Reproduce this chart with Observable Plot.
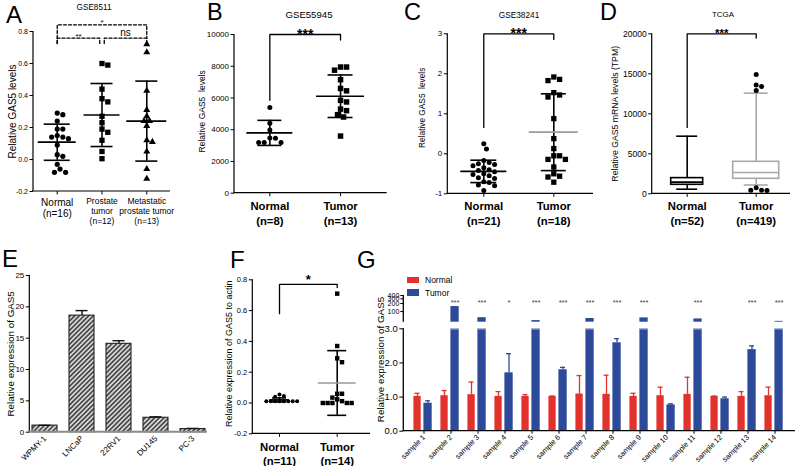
<!DOCTYPE html>
<html><head><meta charset="utf-8">
<script src="https://cdn.jsdelivr.net/npm/d3@7"></script>
<script src="https://cdn.jsdelivr.net/npm/@observablehq/plot@0.6"></script>
<style>
body{margin:0;background:#fff;}
#fig{position:relative;width:796px;height:466px;overflow:hidden;background:#fff;font-family:"Liberation Sans",Arial,Helvetica,sans-serif;}
#fig svg{position:absolute;overflow:visible;}
.lbl{position:absolute;white-space:nowrap;color:#000;}
</style></head><body><div id="fig"></div>
<script>
// ---------------- DATA ----------------
// Panel A (GSE8511)
const aCats = ["Normal\n(n=16)", "Prostate\ntumor\n(n=12)", "Metastatic\nprostate tumor\n(n=13)"];
const aNormal = [0.29, 0.28, 0.24, 0.19, 0.19, 0.15, 0.14, 0.14, 0.13, 0.09, 0.03, 0.02, -0.03, -0.06, -0.08, -0.08];
const aProstate = [0.60, 0.59, 0.44, 0.38, 0.36, 0.27, 0.23, 0.19, 0.17, 0.12, 0.05, 0.005];
const aMetastatic = [0.72, 0.67, 0.43, 0.31, 0.27, 0.24, 0.24, 0.21, 0.12, 0.11, 0.05, -0.06, -0.12];
const aMean = [0.108, 0.278, 0.24];
const aSD = [0.113, 0.197, 0.25];
const aTicks = [-0.2, 0, 0.2, 0.4, 0.6, 0.8];
// Panel B (GSE55945)
const bCats = ["Normal\n(n=8)", "Tumor\n(n=13)"];
const bNormal = [5400, 4400, 3980, 3480, 3460, 3200, 3200, 3200];
const bTumor = [7950, 7950, 7750, 7150, 6600, 6450, 5850, 5750, 5300, 5200, 4950, 4800, 3600];
const bMean = [3800, 6110];
const bSD = [790, 1340];
const bTicks = [0, 2000, 4000, 6000, 8000, 10000];
// Panel C (GSE38241)
const cCats = ["Normal\n(n=21)", "Tumor\n(n=18)"];
const cNormal = [0.25, 0.12, -0.17, -0.22, -0.25, -0.27, -0.3, -0.35, -0.4, -0.42, -0.45, -0.5, -0.52, -0.55, -0.6, -0.62, -0.7, -0.72, -0.78, -0.8, -0.92];
const cTumor = [1.92, 1.86, 1.83, 1.53, 1.47, 1.42, 0.88, 0.38, 0.13, -0.05, -0.05, -0.14, -0.14, -0.33, -0.5, -0.56, -0.58, -0.71];
const cMean = [-0.44, 0.54];
const cSD = [0.28, 0.96];
const cTicks = [-1, 0, 1, 2, 3];
// Panel D (TCGA)
const dCats = ["Normal\n(n=52)", "Tumor\n(n=419)"];
const dLow = [575, 1100];
const dQ1 = [1125, 1875];
const dMedian = [1460, 2660];
const dQ3 = [1960, 4000];
const dHigh = [7200, 12580];
const dTumorOutliers = [14900, 13600, 13400, 12900, 750, 450, 400, 450];
const dTicks = [0, 5000, 10000, 15000, 20000];
// Panel E (cell lines)
const eLines = ["WPMY-1", "LNCaP", "22RV1", "DU145", "PC-3"];
const eValue = [1.05, 18.6, 14.1, 2.3, 0.5];
const eErrTop = [1.1, 19.4, 14.6, 2.45, 0.6];
const eTicks = [0, 5, 10, 15, 20, 25];
// Panel F
const fCats = ["Normal\n(n=11)", "Tumor\n(n=14)"];
const fNormal = [0.055, 0.046, 0.04, 0.011, 0.011, 0.011, 0.011, 0.011, 0.011, 0.011, 0.011];
const fTumor = [0.71, 0.37, 0.29, 0.265, 0.06, 0.06, 0.035, 0.024, 0.012, 0.0, 0.0, 0.0, 0.0, 0.0];
const fMean = [0.02, 0.13];
const fSD = [0.013, 0.21];
const fTicks = [-0.2, 0, 0.2, 0.4, 0.6, 0.8];
// Panel G (paired samples)
const gSamples = ["sample 1","sample 2","sample 3","sample 4","sample 5","sample 6","sample 7","sample 8","sample 9","sample 10","sample 11","sample 12","sample 13","sample 14"];
const gNormal = [1.02, 1.04, 1.07, 1.02, 1.02, 1.02, 1.09, 1.08, 1.02, 1.04, 1.08, 1.02, 1.02, 1.04];
const gNormalErr = [1.11, 1.19, 1.44, 1.16, 1.07, 1.03, 1.63, 1.64, 1.11, 1.29, 1.58, 1.03, 1.16, 1.29];
const gTumor = [0.82, 154, 59, 1.71, 46, 1.8, 55, 2.59, 58, 0.77, 53, 0.95, 2.39, 43];
const gTumorErr = [0.89, null, null, 2.27, null, 1.87, null, 2.71, null, 0.80, null, 1.00, 2.5, null];
const gSig = ["", "***", "***", "*", "***", "***", "***", "***", "***", "", "***", "", "***", "***"];
const gSeries = ["Normal", "Tumor"];
const gColors = ["#e3322c", "#2d4a9a"];
const gTicksLow = [0, 1, 2, 3];
const gTicksHigh = [100, 200, 300, 400];

// ---------------- HELPERS ----------------
const ns = "http://www.w3.org/2000/svg";
const FONT = '"Liberation Sans", Arial, Helvetica, sans-serif';
const fig = document.getElementById("fig");
const baseStyle = {fontFamily: FONT, fontSize: "8px", background: "transparent", overflow: "visible", color: "#000"};

function place(el, left, top) {
  el.style.position = "absolute"; el.style.left = left + "px"; el.style.top = top + "px";
  fig.appendChild(el);
}
function addText(txt, x, baseline, size, {anchor = "start", weight = "normal", color = "#000"} = {}) {
  const d = document.createElement("div");
  d.className = "lbl"; d.textContent = txt;
  d.style.fontSize = size + "px"; d.style.lineHeight = (0.8 * size) + "px";
  d.style.fontWeight = weight; d.style.color = color;
  d.style.top = (baseline - 0.7465 * size) + "px"; d.style.left = x + "px";
  if (anchor === "middle") d.style.transform = "translateX(-50%)";
  fig.appendChild(d);
}
function mkLine(g, x1, y1, x2, y2, stroke, w) {
  const l = document.createElementNS(ns, "line");
  l.setAttribute("x1", x1); l.setAttribute("y1", y1); l.setAttribute("x2", x2); l.setAttribute("y2", y2);
  l.setAttribute("stroke", stroke); l.setAttribute("stroke-width", w);
  g.appendChild(l);
}
function axisLines({left = true, bottom = true, stroke = "#000", width = 1.2, bottomStroke, bottomWidth} = {}) {
  return (index, scales, values, dims) => {
    const g = document.createElementNS(ns, "g");
    const {marginLeft: ml, marginTop: mt, marginBottom: mb, marginRight: mr, width: W, height: H} = dims;
    if (left) mkLine(g, ml, mt, ml, H - mb, stroke, width);
    if (bottom) mkLine(g, ml - width / 2, H - mb, W - mr, H - mb, bottomStroke || stroke, bottomWidth || width);
    return g;
  };
}
function ylabelMark(text, dx, dy, size) {
  return Plot.text([text], {frameAnchor: "left", textAnchor: "middle", lineAnchor: "middle", rotate: -90, dx, dy, fontSize: size, fill: "#000"});
}
function swarm(values, ypx, diam) {
  const order = values.map((_, i) => i).sort((a, b) => values[b] - values[a]);
  const placed = [], off = new Array(values.length).fill(0);
  for (const i of order) {
    const y = values[i] * ypx;
    let chosen = 0;
    for (let k = 0; k < 80; k++) {
      const cand = k === 0 ? 0 : (k % 2 ? 1 : -1) * Math.ceil(k / 2) * diam * 0.5;
      if (placed.every(p => (p.x - cand) ** 2 + (p.y - y) ** 2 >= diam * diam * 0.95)) { chosen = cand; break; }
    }
    placed.push({x: chosen, y}); off[i] = chosen;
  }
  return off;
}
function bracketMarks(b) {
  return [
    Plot.line([[b.from, b.endFrom], [b.from, b.top], [b.to, b.top], [b.to, b.endTo]],
      {x: d => d[0], y: d => d[1], stroke: "#000", strokeWidth: b.width || 1.3, strokeDasharray: b.dash, curve: "linear"}),
    Plot.text([b], {x: d => (d.from + d.to) / 2, y: d => d.top, text: d => d.label, lineAnchor: "bottom",
      dy: b.dy, fontSize: b.size, fontWeight: b.weight || "normal", fill: "#000"})
  ];
}

function scatterPanel(o) {
  const xpx = (o.width - o.ml - o.mr) / (o.xDomain[1] - o.xDomain[0]);
  const ypx = (o.height - o.mt - o.mb) / (o.yDomain[1] - o.yDomain[0]);
  const idx = o.groups.map((_, i) => i);
  const marks = [
    axisLines(),
    Plot.axisY({ticks: o.yTicks, tickFormat: o.yFmt, tickSize: 3.5, tickPadding: 2, fontSize: o.tickFont, label: null}),
    Plot.axisX({ticks: idx, tickFormat: () => "", tickSize: 3.5, label: null})
  ];
  o.groups.forEach((g, gi) => {
    const offs = swarm(g.values, ypx, g.diam);
    const pts = g.values.map((v, i) => ({x: gi + offs[i] / xpx, y: v}));
    marks.push(Plot.dot(pts, {x: "x", y: "y", symbol: g.symbol, r: g.r, fill: "#000", stroke: "none"}));
    marks.push(Plot.ruleX([g], {x: () => gi, y1: d => d.mean - d.sd, y2: d => d.mean + d.sd, stroke: "#000", strokeWidth: 1.6}));
    marks.push(Plot.ruleY([g.mean - g.sd, g.mean + g.sd], {y: d => d, x1: () => gi - g.capHalf / xpx, x2: () => gi + g.capHalf / xpx, stroke: "#000", strokeWidth: 1.6}));
    marks.push(Plot.ruleY([g.mean], {y: d => d, x1: () => gi - g.meanHalf / xpx, x2: () => gi + g.meanHalf / xpx, stroke: g.meanColor || "#000", strokeWidth: 1.7}));
  });
  marks.push(Plot.text(o.cats, {x: (d, i) => i, y: () => o.yDomain[0], text: d => d.label, fontSize: d => d.size,
    fontWeight: o.catWeight, lineAnchor: "top", lineHeight: o.catLH, dy: o.catDy, fill: "#000"}));
  marks.push(ylabelMark(o.ylabel, o.ylabelX - o.left - o.ml, o.ylabelDy || 0, o.ylabelSize));
  for (const b of o.brackets) marks.push(...bracketMarks(b));
  const p = Plot.plot({
    width: o.width, height: o.height, marginLeft: o.ml, marginRight: o.mr, marginTop: o.mt, marginBottom: o.mb,
    x: {type: "linear", domain: o.xDomain}, y: {type: "linear", domain: o.yDomain},
    style: baseStyle, marks
  });
  place(p, o.left, o.top);
}
const fx1 = d => d.toFixed(1);
const fstr = d => String(d);

// ---------------- PANEL A ----------------
scatterPanel({
  left: 0, top: 0, width: 200, height: 235, ml: 33, mr: 30, mt: 31, mb: 44,
  xDomain: [-0.53, 2.53], yDomain: [-0.2, 0.8], yTicks: aTicks, yFmt: fx1, tickFont: 7,
  groups: [
    {values: aNormal, symbol: "circle", r: 2.6, diam: 5.6, mean: aMean[0], sd: aSD[0], meanHalf: 19, capHalf: 13},
    {values: aProstate, symbol: "square", r: 3, diam: 5.8, mean: aMean[1], sd: aSD[1], meanHalf: 18, capHalf: 11},
    {values: aMetastatic, symbol: "triangle", r: 2.6, diam: 5.6, mean: aMean[2], sd: aSD[2], meanHalf: 20, capHalf: 11}
  ],
  cats: aCats.map((label, i) => ({label, size: i === 0 ? 10 : 8.5})), catWeight: "normal", catLH: 1.15, catDy: 6,
  ylabel: "Relative GAS5 levels", ylabelX: 12.7, ylabelSize: 10,
  brackets: [
    {from: 0, to: 2, top: 0.842, endFrom: 0.725, endTo: 0.758, label: "*", dash: "3,2", size: 8, dy: 0.5},
    {from: 0, to: 0.95, top: 0.758, endFrom: 0.725, endTo: 0.725, label: "**", dash: "3,2", size: 8, dy: 1},
    {from: 1.05, to: 2, top: 0.758, endFrom: 0.725, endTo: 0.725, label: "ns", dash: "3,2", size: 10, dy: -2.5}
  ]
});

// ---------------- PANEL B ----------------
scatterPanel({
  left: 195, top: 0, width: 200, height: 235, ml: 39, mr: 8.3, mt: 34, mb: 42.3,
  xDomain: [-0.5, 1.66], yDomain: [0, 10000], yTicks: bTicks, yFmt: fstr, tickFont: 8,
  groups: [
    {values: bNormal, symbol: "circle", r: 2.5, diam: 5.6, mean: bMean[0], sd: bSD[0], meanHalf: 23, capHalf: 12},
    {values: bTumor, symbol: "square", r: 3.1, diam: 6, mean: bMean[1], sd: bSD[1], meanHalf: 24, capHalf: 12.5}
  ],
  cats: bCats.map(label => ({label, size: 11.3})), catWeight: "bold", catLH: 1.28, catDy: 6.6,
  ylabel: "Relative GAS5\u00a0 levels", ylabelX: 201.7, ylabelSize: 8.5, ylabelDy: -2.5,
  brackets: [{from: 0, to: 1, top: 10000, endFrom: 5850, endTo: 9650, label: "***", size: 14, weight: "bold", dy: 4.2}]
});

// ---------------- PANEL C ----------------
scatterPanel({
  left: 390, top: 0, width: 206, height: 235, ml: 57.3, mr: 3, mt: 33.3, mb: 41.7,
  xDomain: [-0.514, 1.567], yDomain: [-1, 3], yTicks: cTicks, yFmt: fstr, tickFont: 8,
  groups: [
    {values: cNormal, symbol: "circle", r: 2.5, diam: 5.4, mean: cMean[0], sd: cSD[0], meanHalf: 23, capHalf: 13},
    {values: cTumor, symbol: "square", r: 3, diam: 5.8, mean: cMean[1], sd: cSD[1], meanHalf: 24.5, capHalf: 12.5, meanColor: "#9a9a9a"}
  ],
  cats: cCats.map(label => ({label, size: 11.3})), catWeight: "bold", catLH: 1.28, catDy: 6,
  ylabel: "Relative GAS5\u00a0 levels", ylabelX: 421.7, ylabelSize: 8.3, ylabelDy: -6,
  brackets: [{from: 0, to: 1, top: 3, endFrom: 0.66, endTo: 2.86, label: "***", size: 14, weight: "bold", dy: 4.2}]
});

// ---------------- PANEL D ----------------
(function () {
  const W = 206, H = 235, ml = 61.7, mr = 6, mt = 33.3, mb = 41.7;
  const xDomain = [-0.507, 1.497], yDomain = [0, 20000];
  const xpx = (W - ml - mr) / (xDomain[1] - xDomain[0]);
  const ypx = (H - mt - mb) / (yDomain[1] - yDomain[0]);
  const colors = ["#000", "#a8a8a8"], boxHalf = [16, 23], capHalf = [10.5, 12];
  const boxes = dCats.map((c, i) => ({i, lo: dLow[i], q1: dQ1[i], med: dMedian[i], q3: dQ3[i], hi: dHigh[i], color: colors[i], bh: boxHalf[i] / xpx, ch: capHalf[i] / xpx}));
  const offs = swarm(dTumorOutliers, ypx, 5.4);
  const outl = dTumorOutliers.map((v, i) => ({x: 1 + offs[i] / xpx, y: v}));
  const marks = [axisLines(),
    Plot.axisY({ticks: dTicks, tickFormat: fstr, tickSize: 3.5, tickPadding: 2, fontSize: 8.5, label: null}),
    Plot.axisX({ticks: [0, 1], tickFormat: () => "", tickSize: 3.5, label: null})];
  for (const b of boxes) {
    marks.push(
      Plot.ruleX([b], {x: d => d.i, y1: "q3", y2: "hi", stroke: b.color, strokeWidth: 1.6}),
      Plot.ruleX([b], {x: d => d.i, y1: "lo", y2: "q1", stroke: b.color, strokeWidth: 1.6}),
      Plot.ruleY([b.hi, b.lo], {y: d => d, x1: () => b.i - b.ch, x2: () => b.i + b.ch, stroke: b.color, strokeWidth: 1.6}),
      Plot.rect([b], {x1: d => d.i - d.bh, x2: d => d.i + d.bh, y1: "q1", y2: "q3", fill: "#fff", stroke: b.color, strokeWidth: 1.6}),
      Plot.ruleY([b], {y: "med", x1: d => d.i - d.bh, x2: d => d.i + d.bh, stroke: b.color, strokeWidth: 1.6})
    );
  }
  marks.push(Plot.dot(outl, {x: "x", y: "y", r: 2.5, fill: "#000"}));
  marks.push(Plot.text(dCats, {x: (d, i) => i, y: () => 0, text: d => d, fontSize: 11.3, fontWeight: "bold", lineAnchor: "top", lineHeight: 1.28, dy: 6, fill: "#000"}));
  marks.push(ylabelMark("Relative GAS5 mRNA levels (TPM)", 615 - 590 - ml, 0, 8.7));
  marks.push(...bracketMarks({from: 0, to: 1, top: 20000, endFrom: 8300, endTo: 19450, label: "***", size: 11.5, weight: "bold", dy: 3.6}));
  const p = Plot.plot({width: W, height: H, marginLeft: ml, marginRight: mr, marginTop: mt, marginBottom: mb,
    x: {type: "linear", domain: xDomain}, y: {type: "linear", domain: yDomain}, style: baseStyle, marks});
  place(p, 590, 0);
})();

// ---------------- PANEL E ----------------
(function () {
  const eData = eLines.map((l, i) => ({line: l, v: eValue[i], e: eErrTop[i]}));
  const defs = () => {
    const d = document.createElementNS(ns, "defs");
    d.innerHTML = '<pattern id="hatchE" patternUnits="userSpaceOnUse" width="3.3" height="3.3" patternTransform="rotate(45)">' +
      '<rect width="3.3" height="3.3" fill="#d6d6d6"></rect><line x1="0.8" y1="0" x2="0.8" y2="3.3" stroke="#3a3a3a" stroke-width="1.5"></line></pattern>';
    return d;
  };
  const p = Plot.plot({
    width: 212, height: 226, marginLeft: 29.3, marginRight: 5, marginTop: 35, marginBottom: 34.3,
    x: {type: "band", domain: eLines, range: [26.5, 211.5], paddingInner: 0.32, paddingOuter: 0.16},
    y: {type: "linear", domain: [0, 25]}, style: baseStyle,
    marks: [
      defs,
      Plot.barY(eData, {x: "line", y: "v", fill: "url(#hatchE)", stroke: "#222", strokeWidth: 1.1}),
      Plot.ruleX(eData, {x: "line", y1: "v", y2: "e", stroke: "#111", strokeWidth: 1.4}),
      Plot.tickY(eData, {x: "line", y: "e", insetLeft: 6.5, insetRight: 6.5, stroke: "#111", strokeWidth: 1.4}),
      axisLines({bottomStroke: "#8c8c8c", bottomWidth: 2}),
      Plot.axisY({ticks: eTicks, tickSize: 3.5, tickPadding: 2, fontSize: 8, label: null}),
      Plot.axisX({tickRotate: -45, tickSize: 0, tickPadding: 5, fontSize: 8, label: null}),
      ylabelMark("Relative expression of GAS5", 10 - 29.3, 0, 9.8)
    ]
  });
  place(p, 0, 240);
})();

// ---------------- PANEL F ----------------
scatterPanel({
  left: 195, top: 240, width: 180, height: 226, ml: 57.3, mr: 5, mt: 39.3, mb: 32.7,
  xDomain: [-0.463, 1.577], yDomain: [-0.2, 0.8], yTicks: fTicks, yFmt: fx1, tickFont: 7.5,
  groups: [
    {values: fNormal, symbol: "circle", r: 2, diam: 4.4, mean: fMean[0], sd: fSD[0], meanHalf: 9.7, capHalf: 7},
    {values: fTumor, symbol: "square", r: 2.5, diam: 4.8, mean: fMean[1], sd: fSD[1], meanHalf: 19, capHalf: 9.5, meanColor: "#9a9a9a"}
  ],
  cats: fCats.map(label => ({label, size: 11.3})), catWeight: "bold", catLH: 1.28, catDy: 6.7,
  ylabel: "Relative expression of GAS5 to actin", ylabelX: 228.3, ylabelSize: 9, ylabelDy: -3,
  brackets: [{from: 0, to: 1, top: 0.77, endFrom: 0.58, endTo: 0.75, label: "*", size: 13, weight: "bold", dy: 0}]
});

// ---------------- PANEL G ----------------
(function () {
  const gData = gSamples.map((s, i) => ({s, n: gNormal[i], ne: gNormalErr[i], t: gTumor[i], te: gTumorErr[i], sig: gSig[i]}));
  const RED = gColors[0], BLUE = gColors[1];
  const xOpt = {type: "band", domain: gSamples, range: [33.3, 424.6], padding: 0};
  const withErr = gData.filter(d => d.te != null);
  const broken = gData.filter(d => d.t > 3);
  const lower = Plot.plot({
    width: 426, height: 226, marginLeft: 33.3, marginRight: 1, marginTop: 88.3, marginBottom: 35.3,
    x: xOpt, y: {type: "linear", domain: [0, 3]}, style: baseStyle,
    marks: [
      Plot.barY(gData, {x: "s", y: "n", fill: RED, insetLeft: 3.4, insetRight: 16.3}),
      Plot.barY(gData, {x: "s", y: d => Math.min(d.t, 3), fill: BLUE, insetLeft: 13.4, insetRight: 5.3}),
      Plot.tickY(broken, {x: "s", y: () => 3, stroke: "#b4c1e6", strokeWidth: 1.2, insetLeft: 13, insetRight: 5}),
      Plot.ruleX(gData, {x: "s", y1: "n", y2: "ne", dx: -6.5, stroke: RED, strokeWidth: 1.3}),
      Plot.tickY(gData, {x: "s", y: "ne", insetLeft: 4.5, insetRight: 17.5, stroke: RED, strokeWidth: 1.3}),
      Plot.ruleX(withErr, {x: "s", y1: "t", y2: "te", dx: 4, stroke: BLUE, strokeWidth: 1.3}),
      Plot.tickY(withErr, {x: "s", y: "te", insetLeft: 15, insetRight: 7, stroke: BLUE, strokeWidth: 1.3}),
      axisLines({width: 1.3}),
      Plot.axisY({ticks: gTicksLow, tickSize: 4, tickPadding: 2, fontSize: 9.5, label: null}),
      Plot.axisX({tickRotate: -45, tickSize: 3, tickPadding: 2, fontSize: 7.5, label: null}),
      ylabelMark("Relative expression of GAS5", 380 - 403.3, -20.5, 9.8)
    ]
  });
  place(lower, 370, 240);
  const upper = Plot.plot({
    width: 426, height: 226, marginLeft: 33.3, marginRight: 1, marginTop: 55, marginBottom: 144.3,
    x: {...xOpt, axis: null}, y: {type: "log", domain: [40, 400]}, style: baseStyle,
    marks: [
      Plot.barY(broken, {x: "s", y1: () => 40, y2: "t", fill: BLUE, insetLeft: 13.4, insetRight: 5.3}),
      axisLines({bottom: false, width: 1.3}),
      Plot.axisY({ticks: gTicksHigh, tickFormat: fstr, tickSize: 3, tickPadding: 1.5, fontSize: 7, label: null}),
      Plot.text(gData.filter(d => d.sig), {x: "s", y: () => 400, text: "sig", dx: 4, dy: 7.5, fontSize: 7.5, fill: "#444"})
    ]
  });
  place(upper, 370, 240);
  // legend
  gSeries.forEach((name, i) => {
    const sw = document.createElement("div");
    sw.style.cssText = `position:absolute;left:407px;top:${276.7 + i * 12.6}px;width:12px;height:6.8px;background:${gColors[i]};`;
    fig.appendChild(sw);
    addText(name, 425, 283.3 + i * 12.6, 8.5);
  });
})();

// ---------------- LETTERS & TITLES ----------------
addText("A", 6, 23, 24);
addText("B", 207, 20.8, 23.5);
addText("C", 404, 21, 23.5);
addText("D", 600, 21, 23.5);
addText("E", 2, 266.5, 24);
addText("F", 230, 268, 24);
addText("G", 357, 268, 24);
addText("GSE8511", 94, 10.8, 8.2, {anchor: "middle"});
addText("GSE55945", 309, 18.5, 9.6, {anchor: "middle"});
addText("GSE38241", 519, 18.3, 8.3, {anchor: "middle"});
addText("TCGA", 723, 17.5, 8, {anchor: "middle"});
</script></body></html>
